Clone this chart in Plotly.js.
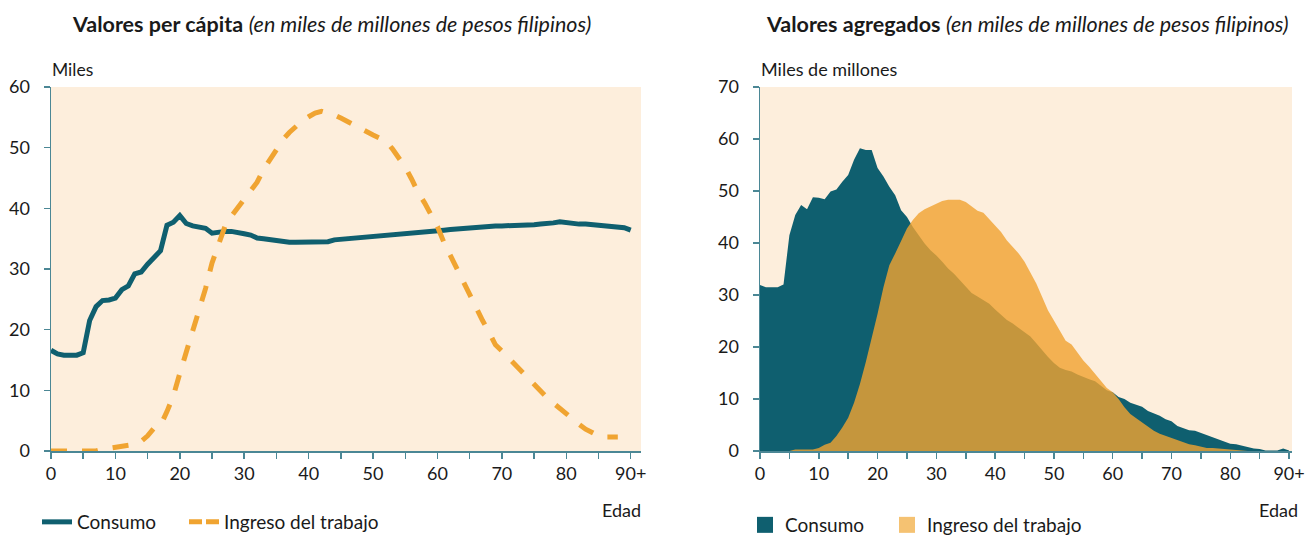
<!DOCTYPE html>
<html>
<head>
<meta charset="utf-8">
<script src="https://cdn.plot.ly/plotly-3.0.1.min.js"></script>
<style>
  html, body { margin: 0; padding: 0; background: #ffffff; }
  #chart { width: 1307px; height: 535px; }
</style>
</head>
<body>
<div id="chart"></div>
<script>
// ---------- DATA ----------
const ages = Array.from({length: 91}, (_, i) => i);   // 0 .. 90+

const xTickVals = [0, 5, 10, 15, 20, 25, 30, 35, 40, 45, 50, 55, 60, 65, 70, 75, 80, 85, 90];
const xTickText = ['0', '', '10', '', '20', '', '30', '', '40', '', '50', '', '60', '', '70', '', '80', '', '90+'];

// Valores per cápita (miles)
const consumoPerCapita = [
  16.6, 16.0, 15.8, 15.8, 15.8, 16.2, 21.5, 23.8, 24.8, 24.9,
  25.2, 26.6, 27.2, 29.2, 29.5, 30.8, 31.8, 33.0, 37.2, 37.7,
  38.8, 37.5, 37.1, 36.8, 36.7, 35.9, 36.1, 36.2, 36.2, 35.9,
  35.8, 35.6, 35.1, 35.0, 34.8, 34.7, 34.5, 34.4, 34.4, 34.4,
  34.4, 34.4, 34.4, 34.5, 34.8, 34.9, 35.0, 35.1, 35.2, 35.4,
  35.5, 35.5, 35.6, 35.6, 35.8, 35.9, 36.0, 36.1, 36.2, 36.2,
  36.3, 36.4, 36.5, 36.6, 36.8, 36.9, 37.0, 37.1, 37.1, 37.1,
  37.1, 37.1, 37.1, 37.1, 37.1, 37.3, 37.4, 37.4, 37.6, 37.8,
  37.6, 37.4, 37.4, 37.4, 37.3, 37.1, 37.1, 37.0, 36.8, 36.8,
  36.4
];
const ingresoPerCapita = [
  0, 0, 0, 0, 0, 0, 0, 0, 0.3, 0.5,
  0.6, 0.7, 0.9, 1.1, 1.6, 2.5, 3.8, 4.2, 6.5, 9.1,
  12.8, 16.3, 19.8, 23.2, 26.8, 31.0, 34.2, 37.0, 38.7, 40.1,
  41.4, 42.6, 44.3, 46.4, 48.1, 49.8, 51.3, 52.5, 53.5, 54.4,
  55.1, 55.7, 56.0, 55.8, 55.4, 54.9, 54.3, 53.7, 53.1, 52.6,
  52.1, 51.6, 51.1, 49.8, 48.3, 46.8, 44.8, 42.6, 40.9, 38.8,
  37.0, 34.4, 32.2, 30.0, 28.0, 26.0, 23.7, 21.5, 19.6, 17.5,
  16.5, 15.4, 14.2, 13.1, 12.0, 10.9, 9.7, 8.8, 7.9, 7.0,
  6.0, 5.1, 4.4, 3.6, 3.0, 2.5, 2.3, 2.3, 2.3, null,
  null
];

// Valores agregados (miles de millones)
const consumoAgregado = [
  31.9, 31.5, 31.5, 31.5, 32.0, 41.5, 45.4, 47.3, 46.5, 48.8,
  48.7, 48.4, 49.9, 50.3, 51.8, 53.1, 56.0, 58.2, 57.9, 57.9,
  54.4, 52.8, 50.8, 49.2, 46.3, 45.0, 43.1, 41.5, 39.9, 38.6,
  37.6, 36.4, 35.1, 34.1, 32.8, 31.5, 30.4, 29.7, 29.0, 28.3,
  27.2, 26.1, 25.2, 24.5, 23.7, 22.8, 22.0, 20.7, 19.3, 18.1,
  16.9, 16.0, 15.6, 15.3, 14.7, 14.2, 13.8, 13.4, 12.5, 11.7,
  11.3, 10.4, 10.0, 9.3, 8.9, 8.5, 7.7, 7.2, 6.8, 6.1,
  5.7, 4.8, 4.4, 4.0, 3.9, 3.5, 3.1, 2.7, 2.3, 1.8,
  1.4, 1.3, 1.0, 0.8, 0.5, 0.4, 0.1, 0.1, 0.1, 0.5,
  0.1
];
const ingresoAgregado = [
  0, 0, 0, 0, 0, 0, 0.3, 0.3, 0.3, 0.3,
  0.6, 1.2, 1.6, 2.9, 4.5, 6.4, 9.3, 12.9, 17.1, 21.6,
  26.4, 31.5, 35.7, 38.0, 40.5, 42.8, 44.4, 45.7, 46.5, 47.0,
  47.6, 48.1, 48.3, 48.3, 48.3, 47.9, 47.0, 46.2, 45.8, 44.6,
  43.3, 42.1, 40.5, 39.3, 38.0, 36.4, 34.3, 32.2, 29.6, 27.0,
  25.1, 23.2, 21.2, 20.5, 19.0, 17.4, 16.2, 14.9, 13.4, 12.1,
  11.3, 10.0, 8.4, 7.1, 6.3, 5.5, 4.6, 3.9, 3.3, 2.9,
  2.4, 2.1, 1.6, 1.3, 1.1, 0.8, 0.6, 0.6, 0.5, 0.4,
  0.3, 0.1, 0, 0, 0, 0, 0, 0, 0, 0,
  0
];

const seriesNames = ['Consumo', 'Ingreso del trabajo'];

// ---------- STYLE ----------
const FONT = 'Lato, "Open Sans", sans-serif';
const TEAL = '#0f5f6f';
const ORANGE = '#f0a431';
const ORANGE_FILL = 'rgba(240,162,49,0.81)';
const ORANGE_SWATCH = '#f5c272';
const AX = '#4b8795';
const BG = '#fdeedc';
const TXT = '#1a1a1a';

const traces = [
  // left: per cápita
  { x: ages, y: consumoPerCapita, xaxis: 'x', yaxis: 'y', type: 'scatter', mode: 'lines',
    name: seriesNames[0], legend: 'legend', legendwidth: 102,
    line: { color: TEAL, width: 5, shape: 'linear' }, hoverinfo: 'skip' },
  { x: ages, y: ingresoPerCapita, xaxis: 'x', yaxis: 'y', type: 'scatter', mode: 'lines',
    name: seriesNames[1], showlegend: false,
    line: { color: ORANGE, width: 5, dash: '16px,15px' }, hoverinfo: 'skip' },
  // legend-only swatch for the dashed line
  { x: [null], y: [null], xaxis: 'x', yaxis: 'y', type: 'scatter', mode: 'lines',
    name: seriesNames[1], legend: 'legend', legendwidth: 175,
    line: { color: ORANGE, width: 5, dash: '13px,4px' }, hoverinfo: 'skip' },

  // right: agregados
  { x: ages, y: consumoAgregado, xaxis: 'x2', yaxis: 'y2', type: 'scatter', mode: 'lines',
    fill: 'tozeroy', fillcolor: TEAL, line: { width: 0, color: TEAL },
    showlegend: false, hoverinfo: 'skip' },
  { x: ages, y: ingresoAgregado, xaxis: 'x2', yaxis: 'y2', type: 'scatter', mode: 'lines',
    fill: 'tozeroy', fillcolor: ORANGE_FILL, line: { width: 0, color: ORANGE_FILL },
    showlegend: false, hoverinfo: 'skip' },
  // legend-only square swatches
  { x: [null], y: [null], xaxis: 'x2', yaxis: 'y2', type: 'scatter', mode: 'markers',
    name: seriesNames[0], legend: 'legend2', legendwidth: 97,
    marker: { symbol: 'square', size: 16, color: TEAL }, hoverinfo: 'skip' },
  { x: [null], y: [null], xaxis: 'x2', yaxis: 'y2', type: 'scatter', mode: 'markers',
    name: seriesNames[1], legend: 'legend2', legendwidth: 175,
    marker: { symbol: 'square', size: 16, color: ORANGE_SWATCH }, hoverinfo: 'skip' }
];

const W = 1307, H = 535;
const px = v => v / W;
const py = v => (H - v) / H;

function xAxis(domain, range) {
  return {
    domain: domain, range: range, fixedrange: true,
    tickmode: 'array', tickvals: xTickVals, ticktext: xTickText,
    tickfont: { family: FONT, size: 18, color: TXT },
    showline: true, linecolor: AX, linewidth: 1.5,
    ticks: 'outside', ticklen: 6, tickwidth: 1.5, tickcolor: AX,
    showgrid: false, zeroline: false, automargin: false
  };
}
function yAxis(domain, range, anchor) {
  return {
    domain: domain, range: range, anchor: anchor, fixedrange: true,
    tickmode: 'linear', tick0: 0, dtick: 10,
    tickfont: { family: FONT, size: 18, color: TXT },
    showline: true, linecolor: AX, linewidth: 1.5,
    ticks: 'outside', ticklen: 6, tickwidth: 1.5, tickcolor: AX,
    ticklabelstandoff: 10,
    showgrid: false, zeroline: false, automargin: false
  };
}

const yDom = [py(451), py(87)];

const layout = {
  width: W, height: H,
  margin: { l: 0, r: 0, t: 0, b: 0, autoexpand: false },
  paper_bgcolor: '#ffffff',
  plot_bgcolor: BG,
  font: { family: FONT, color: TXT },
  showlegend: true,
  xaxis: Object.assign(xAxis([px(51), px(641)], [0, 91.6]), { anchor: 'y' }),
  yaxis: yAxis(yDom, [0, 60], 'x'),
  xaxis2: Object.assign(xAxis([px(760), px(1292)], [0, 90.5]), { anchor: 'y2' }),
  yaxis2: yAxis(yDom, [0, 70], 'x2'),
  legend: {
    orientation: 'h', x: px(37), xanchor: 'left', y: py(522), yanchor: 'middle',
    font: { family: FONT, size: 19, color: TXT },
    bgcolor: 'rgba(0,0,0,0)',
    itemclick: false, itemdoubleclick: false
  },
  legend2: {
    orientation: 'h', x: px(745), xanchor: 'left', y: py(525), yanchor: 'middle',
    font: { family: FONT, size: 19, color: TXT },
    bgcolor: 'rgba(0,0,0,0)',
    itemclick: false, itemdoubleclick: false
  },
  annotations: [
    { xref: 'paper', yref: 'paper', x: px(331), y: py(24), xanchor: 'center', yanchor: 'middle',
      text: '<b>Valores per cápita</b> <i>(en miles de millones de pesos filipinos)</i>',
      showarrow: false, font: { family: FONT, size: 21.5, color: TXT } },
    { xref: 'paper', yref: 'paper', x: px(1027), y: py(24), xanchor: 'center', yanchor: 'middle',
      text: '<b>Valores agregados</b> <i>(en miles de millones de pesos filipinos)</i>',
      showarrow: false, font: { family: FONT, size: 21.5, color: TXT } },
    { xref: 'paper', yref: 'paper', x: px(50), y: py(69), xanchor: 'left', yanchor: 'middle',
      text: 'Miles', showarrow: false, font: { family: FONT, size: 17.5, color: TXT } },
    { xref: 'paper', yref: 'paper', x: px(759), y: py(69), xanchor: 'left', yanchor: 'middle',
      text: 'Miles de millones', showarrow: false, font: { family: FONT, size: 18, color: TXT } },
    { xref: 'paper', yref: 'paper', x: px(643), y: py(510), xanchor: 'right', yanchor: 'middle',
      text: 'Edad', showarrow: false, font: { family: FONT, size: 18, color: TXT } },
    { xref: 'paper', yref: 'paper', x: px(1300), y: py(510), xanchor: 'right', yanchor: 'middle',
      text: 'Edad', showarrow: false, font: { family: FONT, size: 18, color: TXT } }
  ]
};

Plotly.newPlot('chart', traces, layout, { staticPlot: true, displayModeBar: false });
</script>
</body>
</html>
